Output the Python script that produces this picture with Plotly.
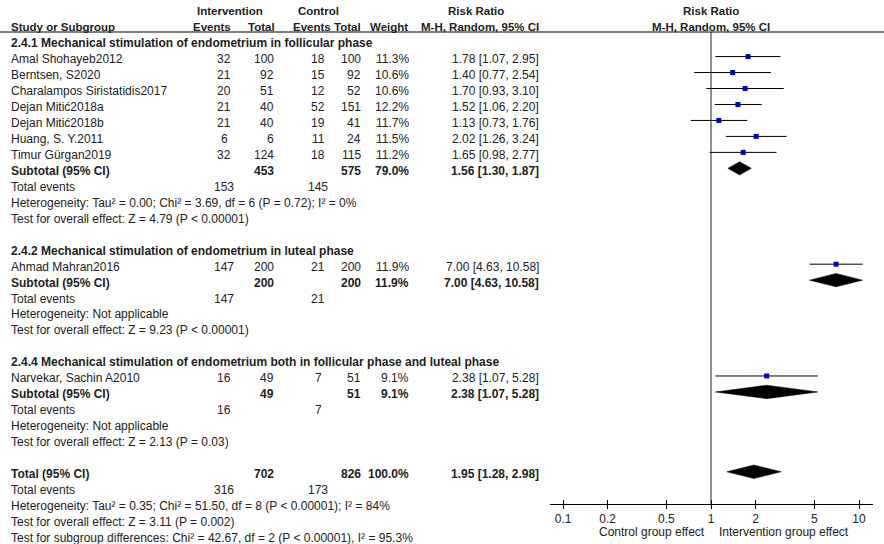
import plotly.graph_objects as go

# ---------------- data ----------------
studies = ["Amal Shohayeb2012", "Berntsen, S2020", "Charalampos Siristatidis2017",
           "Dejan Mitić2018a", "Dejan Mitić2018b", "Huang, S. Y.2011", "Timur Gürgan2019",
           "Ahmad Mahran2016", "Narvekar, Sachin A2010"]
study_group = [0, 0, 0, 0, 0, 0, 0, 1, 2]
int_events = [32, 21, 20, 21, 21, 6, 32, 147, 16]
int_total = [100, 92, 51, 40, 40, 6, 124, 200, 49]
ctl_events = [18, 15, 12, 52, 19, 11, 18, 21, 7]
ctl_total = [100, 92, 52, 151, 41, 24, 115, 200, 51]
weight = [11.3, 10.6, 10.6, 12.2, 11.7, 11.5, 11.2, 11.9, 9.1]
rr = [1.78, 1.40, 1.70, 1.52, 1.13, 2.02, 1.65, 7.00, 2.38]
rr_lo = [1.07, 0.77, 0.93, 1.06, 0.73, 1.26, 0.98, 4.63, 1.07]
rr_hi = [2.95, 2.54, 3.10, 2.20, 1.76, 3.24, 2.77, 10.58, 5.28]

group_names = ["2.4.1 Mechanical stimulation of endometrium in follicular phase",
               "2.4.2 Mechanical stimulation of endometrium in luteal phase",
               "2.4.4 Mechanical stimulation of endometrium both in follicular phase and luteal phase"]
sub_int_total = [453, 200, 49]
sub_ctl_total = [575, 200, 51]
sub_int_events = [153, 147, 16]
sub_ctl_events = [145, 21, 7]
sub_weight = [79.0, 11.9, 9.1]
sub_rr = [1.56, 7.00, 2.38]
sub_lo = [1.30, 4.63, 1.07]
sub_hi = [1.87, 10.58, 5.28]
sub_het = ["Heterogeneity: Tau² = 0.00; Chi² = 3.69, df = 6 (P = 0.72); I² = 0%",
           "Heterogeneity: Not applicable",
           "Heterogeneity: Not applicable"]
sub_test = ["Test for overall effect: Z = 4.79 (P &lt; 0.00001)",
            "Test for overall effect: Z = 9.23 (P &lt; 0.00001)",
            "Test for overall effect: Z = 2.13 (P = 0.03)"]

tot_int_total, tot_ctl_total = 702, 826
tot_int_events, tot_ctl_events = 316, 173
tot_weight = 100.0
tot_rr, tot_lo, tot_hi = 1.95, 1.28, 2.98
tot_het = "Heterogeneity: Tau² = 0.35; Chi² = 51.50, df = 8 (P &lt; 0.00001); I² = 84%"
tot_test = "Test for overall effect: Z = 3.11 (P = 0.002)"
sub_diff = "Test for subgroup differences: Chi² = 42.67, df = 2 (P &lt; 0.00001), I² = 95.3%"

tick_vals = [0.1, 0.2, 0.5, 1, 2, 5, 10]
tick_text = ["0.1", "0.2", "0.5", "1", "2", "5", "10"]
left_label = "Control group effect"
right_label = "Intervention group effect"

# ---------------- layout constants ----------------
W, H = 884, 544
ROW0, ROWH = 43.0, 15.97
TXT = "#222222"
FONT = "Arial, Liberation Sans, sans-serif"
COL = dict(name=10, ie=224, it=275, ce=318, ct=362, w=410, rr=540)
MARK_OFF = -0.15
HDR = 11.5

def fmt_ci(e, l, h):
    return f"{e:.2f} [{l:.2f}, {h:.2f}]"

# ---------------- build rows ----------------
rows = []
r = 0
study_rows = []
sub_rows = []
for g, gname in enumerate(group_names):
    rows.append(dict(r=r, cells=[("name", gname)], bold=True)); r += 1
    for i, s in enumerate(studies):
        if study_group[i] != g:
            continue
        rows.append(dict(r=r, bold=False, cells=[
            ("name", s), ("ie", str(int_events[i])), ("it", str(int_total[i])),
            ("ce", str(ctl_events[i])), ("ct", str(ctl_total[i])),
            ("w", f"{weight[i]:.1f}%"), ("rr", fmt_ci(rr[i], rr_lo[i], rr_hi[i]))]))
        study_rows.append((i, r)); r += 1
    rows.append(dict(r=r, bold=True, cells=[
        ("name", "Subtotal (95% CI)"), ("it", str(sub_int_total[g])), ("ct", str(sub_ctl_total[g])),
        ("w", f"{sub_weight[g]:.1f}%"), ("rr", fmt_ci(sub_rr[g], sub_lo[g], sub_hi[g]))]))
    sub_rows.append((sub_rr[g], sub_lo[g], sub_hi[g], r)); r += 1
    rows.append(dict(r=r, bold=False, cells=[("name", "Total events"), ("ie", str(sub_int_events[g])),
                                              ("ce", str(sub_ctl_events[g]))])); r += 1
    rows.append(dict(r=r, bold=False, cells=[("name", sub_het[g])])); r += 1
    rows.append(dict(r=r, bold=False, cells=[("name", sub_test[g])])); r += 1
    r += 1
rows.append(dict(r=r, bold=True, cells=[
    ("name", "Total (95% CI)"), ("it", str(tot_int_total)), ("ct", str(tot_ctl_total)),
    ("w", f"{tot_weight:.1f}%"), ("rr", fmt_ci(tot_rr, tot_lo, tot_hi))]))
sub_rows.append((tot_rr, tot_lo, tot_hi, r)); r += 1
rows.append(dict(r=r, bold=False, cells=[("name", "Total events"), ("ie", str(tot_int_events)),
                                          ("ce", str(tot_ctl_events))])); r += 1
rows.append(dict(r=r, bold=False, cells=[("name", tot_het)])); r += 1
rows.append(dict(r=r, bold=False, cells=[("name", tot_test)])); r += 1
rows.append(dict(r=r, bold=False, cells=[("name", sub_diff)])); r += 1

anchor = dict(name="left", ie="center", it="right", ce="center", ct="right", w="right", rr="right")

annotations = []
def add_text(x, y, text, xanchor="left", bold=False, xref="x", yref="y", size=12, xshift=0):
    t = f"<b>{text}</b>" if bold else text
    annotations.append(dict(x=x, y=y, xref=xref, yref=yref, text=t, showarrow=False,
                            xanchor=xanchor, yanchor="middle", borderpad=0, xshift=xshift,
                            font=dict(family=FONT, size=size, color=TXT)))

for row in rows:
    for key, txt in row["cells"]:
        add_text(COL[key], row["r"], txt, anchor[key], row["bold"])

# headers
add_text(230, -2, "Intervention", "center", True, size=HDR)
add_text(318, -2, "Control", "center", True, size=HDR)
add_text(476, -2, "Risk Ratio", "center", True, size=HDR)
add_text(COL["name"], -1, "Study or Subgroup", "left", True, size=HDR)
add_text(232, -1, "Events", "right", True, size=HDR)
add_text(276, -1, "Total", "right", True, size=HDR)
add_text(332, -1, "Events", "right", True, size=HDR)
add_text(362, -1, "Total", "right", True, size=HDR)
add_text(409, -1, "Weight", "right", True, size=HDR)
add_text(540, -1, "M-H, Random, 95% CI", "right", True, size=HDR)

fig = go.Figure()

# forest: CI lines
for i, rw in study_rows:
    fig.add_trace(go.Scatter(x=[rr_lo[i], rr_hi[i]], y=[rw + MARK_OFF] * 2, mode="lines",
                             line=dict(color="black", width=1), xaxis="x2", yaxis="y2",
                             hoverinfo="skip", showlegend=False, cliponaxis=False))
fig.add_trace(go.Scatter(x=[rr[i] for i, _ in study_rows], y=[rw + MARK_OFF for _, rw in study_rows],
                         mode="markers", marker=dict(symbol="square", size=5, color="#0000cc",
                                                     line=dict(width=0)),
                         xaxis="x2", yaxis="y2", hoverinfo="skip", showlegend=False, cliponaxis=False))
# diamonds
for est, lo, hi, rw in sub_rows:
    yc = rw + MARK_OFF
    fig.add_trace(go.Scatter(x=[lo, est, hi, est, lo], y=[yc, yc - 0.42, yc, yc + 0.42, yc],
                             mode="lines", fill="toself", fillcolor="black",
                             line=dict(color="black", width=0.5), xaxis="x2", yaxis="y2",
                             hoverinfo="skip", showlegend=False))

# forest headers (annotation x on a log axis is given as log10 of the value; log10(1) = 0)
add_text(0, -2, "Risk Ratio", "center", True, xref="x2", size=HDR)
add_text(0, -1, "M-H, Random, 95% CI", "center", True, xref="x2", size=HDR)
annotations.append(dict(x=0, y=1 - 532 / H, xref="x2", yref="paper", text=left_label,
                        showarrow=False, xanchor="right", yanchor="middle", xshift=-4,
                        font=dict(family=FONT, size=12, color=TXT)))
annotations.append(dict(x=0, y=1 - 532 / H, xref="x2", yref="paper", text=right_label,
                        showarrow=False, xanchor="left", yanchor="middle", xshift=6,
                        font=dict(family=FONT, size=12, color=TXT)))

x_lo_px, x_hi_px, one_px, dec_px = 550, 873, 711, 148.0
xr = [(x_lo_px - one_px) / dec_px, (x_hi_px - one_px) / dec_px]
y_axis_px, y_top_px = 504, 32
y2r = [(y_axis_px - ROW0) / ROWH, (y_top_px - ROW0) / ROWH]

shapes = [
    dict(type="line", xref="paper", yref="paper", x0=0, x1=1, y0=1 - 32 / H, y1=1 - 32 / H,
         line=dict(color="black", width=1)),
    dict(type="line", xref="x2", yref="y2 domain", x0=1, x1=1, y0=0, y1=1,
         line=dict(color="#222222", width=1)),
]

fig.update_layout(
    width=W, height=H, margin=dict(l=0, r=0, t=0, b=0),
    paper_bgcolor="white", plot_bgcolor="rgba(0,0,0,0)",
    xaxis=dict(range=[0, W], domain=[0, 1], visible=False, anchor="y"),
    yaxis=dict(range=[(H - ROW0) / ROWH, -ROW0 / ROWH], domain=[0, 1], visible=False),
    xaxis2=dict(type="log", range=xr, domain=[x_lo_px / W, x_hi_px / W], anchor="y2",
                showline=True, linecolor="black", linewidth=1, showgrid=False, zeroline=False,
                ticks="outside", ticklen=4, tickcolor="black", tickvals=tick_vals, ticktext=tick_text,
                tickfont=dict(family=FONT, size=12, color=TXT)),
    xaxis3=dict(type="log", range=xr, domain=[x_lo_px / W, x_hi_px / W], anchor="y2", overlaying="x2",
                showline=False, showgrid=False, zeroline=False, ticks="inside", ticklen=4,
                tickcolor="black", tickvals=tick_vals, showticklabels=False),
    yaxis2=dict(range=y2r, domain=[1 - y_axis_px / H, 1 - y_top_px / H], visible=False, anchor="x2"),
    shapes=shapes, annotations=annotations, showlegend=False,
)
fig.add_trace(go.Scatter(x=[1], y=[0], xaxis="x3", yaxis="y2", mode="markers",
                         marker=dict(opacity=0), hoverinfo="skip", showlegend=False))

fig.write_html("out.html", config={"displayModeBar": False},
               post_script="document.body.style.margin='0px';document.body.style.overflow='hidden';")
